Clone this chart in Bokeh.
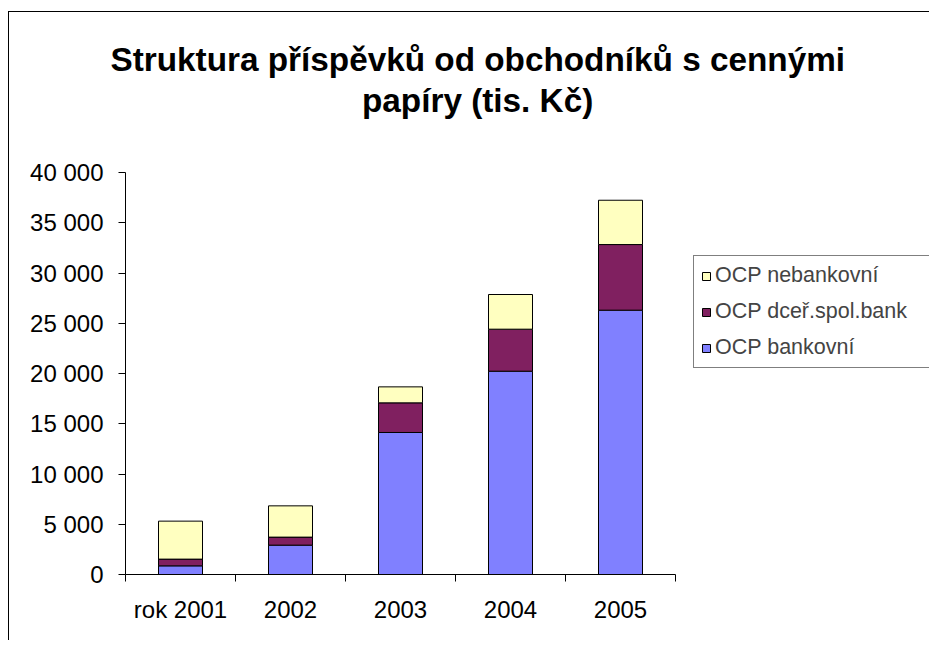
from bokeh.plotting import figure
from bokeh.models import (ColumnDataSource, FixedTicker, Legend, LegendItem, Title)
from bokeh.embed import file_html
from bokeh.resources import INLINE

# ---- data (tis. Kč) ----
years = ["rok 2001", "2002", "2003", "2004", "2005"]
ocp_bankovni = [860, 2920, 14130, 20230, 26300]
ocp_dcer_spol_bank = [670, 800, 2950, 4180, 6530]
ocp_nebankovni = [3780, 3110, 1590, 3450, 4410]
series_names = ["OCP bankovní", "OCP dceř.spol.bank", "OCP nebankovní"]
series_keys = ["bank", "dcer", "nebank"]
colors = ["#8080FF", "#802060", "#FFFFC0"]
y_ticks = list(range(0, 40001, 5000))

title_lines = ["Struktura příspěvků od obchodníků s cennými", "papíry (tis. Kč)"]

x_centers = [i + 0.5 for i in range(len(years))]
x_bounds = list(range(len(years) + 1))

source = ColumnDataSource(dict(x=x_centers, bank=ocp_bankovni,
                               dcer=ocp_dcer_spol_bank, nebank=ocp_nebankovni))

FONT = "Liberation Sans"

p = figure(frame_width=550, frame_height=402,
           x_range=(0, len(years)), y_range=(0, 40000),
           output_backend="svg", toolbar_location=None,
           min_border_left=116, min_border_right=254,
           min_border_top=160, min_border_bottom=66)
p.styles = {"border-left": "1px solid black", "border-top": "1px solid black",
            "margin-left": "8px", "margin-top": "11px"}

renderers = p.vbar_stack(series_keys, x="x", width=0.4, source=source,
                         color=colors, line_color="black", line_width=1)

p.xgrid.visible = False
p.ygrid.visible = False
p.outline_line_color = None
p.background_fill_color = "white"
p.border_fill_color = "white"

# y axis
ya = p.left[0]
ya.ticker = FixedTicker(ticks=y_ticks)
ya.major_label_overrides = {v: f"{v:,}".replace(",", " ") for v in y_ticks}
ya.major_tick_out = 7
ya.major_tick_in = 0
ya.minor_tick_out = 0
ya.minor_tick_in = 0
ya.axis_line_color = "black"
ya.major_tick_line_color = "black"
ya.major_label_text_font = FONT
ya.major_label_text_font_size = "24px"
ya.major_label_text_color = "black"
ya.major_label_standoff = 15

# x axis: labels at category centres, tick marks at category boundaries
xa = p.below[0]
xa.ticker = FixedTicker(ticks=x_centers, minor_ticks=x_bounds)
xa.major_label_overrides = {c: y for c, y in zip(x_centers, years)}
xa.major_tick_out = 0
xa.major_tick_in = 0
xa.minor_tick_out = 7
xa.minor_tick_in = 0
xa.minor_tick_line_color = "black"
xa.axis_line_color = "black"
xa.major_label_text_font = FONT
xa.major_label_text_font_size = "24px"
xa.major_label_text_color = "black"
xa.major_label_standoff = 14

# blank (white) spacer between the title block and the plot area
spacer = Title(text=" ", standoff=14, text_font=FONT, text_font_size="33.3px",
               text_font_style="bold", text_color="white")
p.add_layout(spacer, "above")

# two-line title, each line placed so that both are centred on the chart area
t2 = Title(text=title_lines[1], align="left", offset=236.5, standoff=2,
           text_font=FONT, text_font_size="33.3px", text_font_style="bold",
           text_color="black")
t1 = Title(text=title_lines[0], align="left", offset=-15, standoff=2,
           text_font=FONT, text_font_size="33.3px", text_font_style="bold",
           text_color="black")
p.add_layout(t2, "above")
p.add_layout(t1, "above")

# legend (reverse order, as in the original)
items = [LegendItem(label=n, renderers=[r]) for n, r in zip(series_names, renderers)][::-1]
legend = Legend(items=items, location=(18, 206),
                glyph_width=10, glyph_height=10, label_standoff=4,
                label_text_font=FONT, label_text_font_size="21.5px",
                label_height=24, label_width=210, spacing=11, padding=7, margin=0,
                border_line_color="black", border_line_width=1,
                background_fill_color="white", background_fill_alpha=1.0)
p.add_layout(legend, "right")

open("out.html", "w").write(file_html(p, INLINE))
